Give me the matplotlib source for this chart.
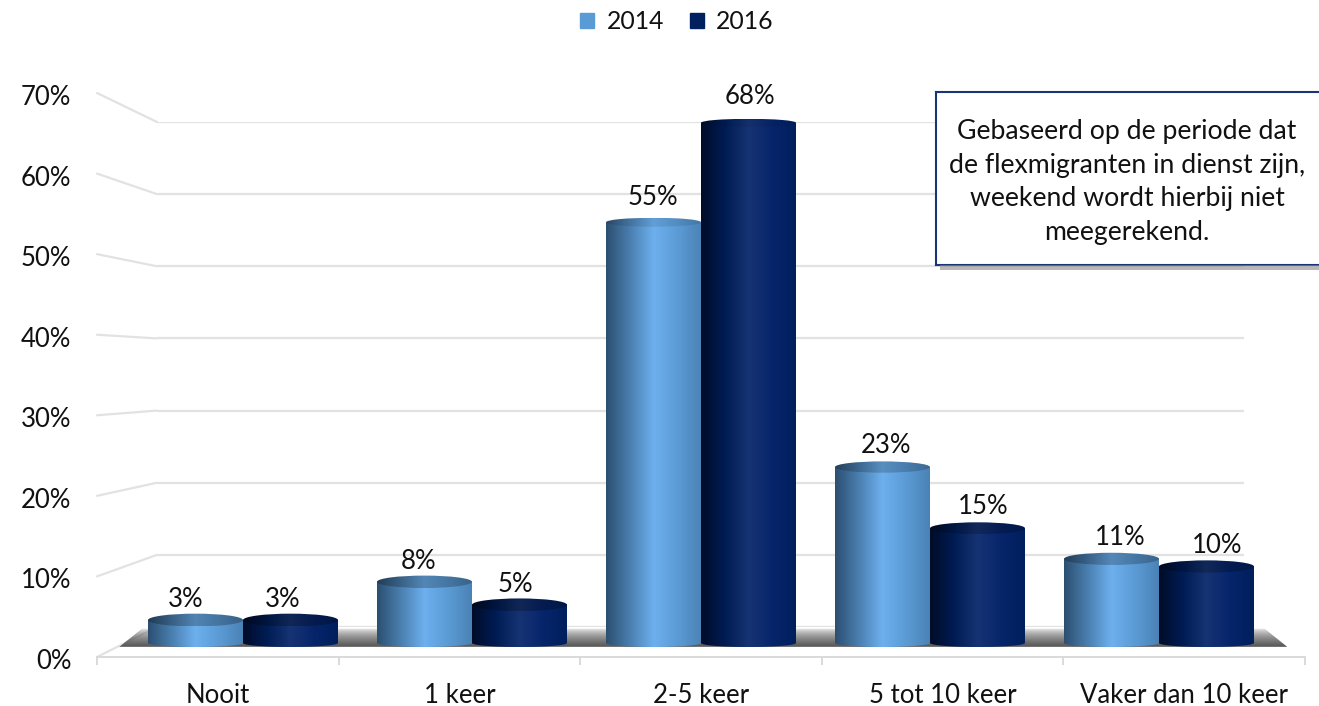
from matplotlib import pyplot as plt
from matplotlib.colors import LinearSegmentedColormap
from matplotlib.patches import ConnectionPatch, Ellipse, Patch, Polygon, Rectangle
from matplotlib.transforms import ScaledTranslation
import numpy as np

categories = ['Nooit', '1 keer', '2-5 keer', '5 tot 10 keer', 'Vaker dan 10 keer']
values_2014 = [3, 8, 55, 23, 11]
values_2016 = [3, 5, 68, 15, 10]
yticks = [0, 10, 20, 30, 40, 50, 60, 70]
note = 'Gebaseerd op de periode dat\nde flexmigranten in dienst zijn,\nweekend wordt hierbij niet\nmeegerekend.'

W, H = 1319, 706
PX_PER_PCT = 7.65
BAR_W = 95 / 229
GRID = '#e2e2e2'
TXT = '#111111'

plt.rcParams['font.family'] = ['Lato', 'DejaVu Sans']
plt.rcParams['font.size'] = 18.5


def px_box(left, top, right, bottom):
    return [left / W, 1 - bottom / H, (right - left) / W, (bottom - top) / H]


light = LinearSegmentedColormap.from_list('light', ['#2c4f70', '#4a7fb0', '#6db0ee', '#5b9bd5', '#4a82b5'])
dark = LinearSegmentedColormap.from_list('dark', ['#000c28', '#001c54', '#163473', '#06246a', '#001f5c'])
grad = np.linspace(0, 1, 256).reshape(1, -1)


def cylinder(ax, x, val, cmap):
    # body with a rounded bottom, then the lid on top
    cap_h = (13 - 5 * val / 68) / PX_PER_PCT
    foot = 4 / PX_PER_PCT
    t = np.linspace(np.pi, 2 * np.pi, 60)
    xs = x + BAR_W / 2 * np.cos(t)
    ys = foot * np.sin(t)
    body = Polygon(np.r_[np.c_[xs, ys], [[x + BAR_W / 2, val], [x - BAR_W / 2, val]]],
                   facecolor='none', edgecolor='none', transform=ax.transData)
    ax.add_patch(body)
    im = ax.imshow(grad, cmap=cmap, aspect='auto', interpolation='bilinear', zorder=3,
                   extent=[x - BAR_W / 2, x + BAR_W / 2, -foot, val])
    im.set_clip_path(body)

    lid = Ellipse((x, val), BAR_W, cap_h, facecolor='none', edgecolor='none')
    ax.add_patch(lid)
    shade = cmap(grad)[:, :, :3] * (0.74 + 0.2 * val / 68)
    im2 = ax.imshow(shade, aspect='auto', interpolation='bilinear', zorder=4,
                    extent=[x - BAR_W / 2, x + BAR_W / 2, val - cap_h / 2, val + cap_h / 2])
    im2.set_clip_path(lid)


fig = plt.figure(figsize=(W / 100, H / 100), dpi=100)

# back wall
ax_back = fig.add_axes(px_box(157, 122, 1244, 627))
ax_back.set_xlim(0, 1)
ax_back.set_ylim(0, 70)
ax_back.set_yticks(yticks)
ax_back.set_xticks([])
ax_back.tick_params(left=False, labelleft=False)
ax_back.grid(axis='y', color=GRID, linewidth=1.6)
for s in ax_back.spines.values():
    s.set_visible(False)

# front axis with the labels
ax_front = fig.add_axes(px_box(97, 93, 1305, 657))
ax_front.patch.set_visible(False)
ax_front.set_xlim(0, 5)
ax_front.set_ylim(0, 70)
ax_front.set_yticks(yticks, [str(v) + '%' for v in yticks], color=TXT)
ax_front.set_xticks(range(6), [])
ax_front.set_xticks(np.arange(5) + 0.5, categories, minor=True, color=TXT)
ax_front.tick_params(axis='y', left=False, pad=15)
ax_front.tick_params(axis='x', which='major', color='#d4d4d4', length=5.5, width=1.2)
ax_front.tick_params(axis='x', which='minor', bottom=False, pad=17)
for s in ['top', 'left', 'right']:
    ax_front.spines[s].set_visible(False)
ax_front.spines['bottom'].set_color('#d9d9d9')
ax_front.spines['bottom'].set_linewidth(1.4)
for lab in ax_front.get_yticklabels():
    lab.set_transform(lab.get_transform() + ScaledTranslation(0, -0.02, fig.dpi_scale_trans))

for v in yticks:
    fig.add_artist(ConnectionPatch(xyA=(0, v), coordsA=ax_front.transData,
                                   xyB=(0, v), coordsB=ax_back.transData,
                                   color=GRID, linewidth=1.6, zorder=-1))

# bars
ax = fig.add_axes(px_box(128.5 - 57.25, 643 - 70 * PX_PER_PCT, 1273.5 + 57.25, 660))
ax.axis('off')

shadow = Polygon([[-0.54, -0.5], [-0.44, 1.9], [4.46, 1.9], [4.56, -0.5]],
                 facecolor='none', edgecolor='none', transform=ax.transData)
ax.add_patch(shadow)
fade = np.zeros((64, 1, 4))
fade[:, 0, :3] = 0.33
fade[:, 0, 3] = np.linspace(0.0, 1.0, 64) ** 0.6
im = ax.imshow(fade, aspect='auto', interpolation='bilinear', zorder=1, extent=[-0.6, 4.6, -0.5, 1.9])
im.set_clip_path(shadow)

for i in range(len(categories)):
    for x, val, cmap in ((i - BAR_W / 2, values_2014[i], light), (i + BAR_W / 2, values_2016[i], dark)):
        cylinder(ax, x, val, cmap)
        ax.annotate(str(val) + '%', (x + 0.02 * (x - 2), val), xytext=(0, (20 + 6 * val / 68) * 0.72),
                    textcoords='offset points', ha='center', va='center', color=TXT, zorder=5)

ax.set_xlim(-0.75, 4.75)
ax.set_ylim(-17 / PX_PER_PCT, 70)

# note box
fig.add_artist(Rectangle((940 / W, 1 - 270 / H), 379 / W, 5 / H, transform=fig.transFigure,
                         facecolor='#8a8a8a', edgecolor='none', alpha=0.6))
ax_note = fig.add_axes(px_box(936, 92, 1330, 265))
ax_note.set_xticks([])
ax_note.set_yticks([])
for s in ax_note.spines.values():
    s.set_color('#1a3573')
    s.set_linewidth(1.5)
ax_note.text((1127 - 936) / 394, 0.48, note, transform=ax_note.transAxes, ha='center', va='center',
             fontsize=19.2, linespacing=1.42, color=TXT)

handles = [Patch(color='#5b9bd5', label='2014'), Patch(color='#002060', label='2016')]
fig.legend(handles=handles, loc='upper center', bbox_to_anchor=(677 / W, 1 + 12 / H), ncol=2, frameon=False,
           fontsize=17.8, handlelength=0.56, handleheight=0.56, handletextpad=0.5, columnspacing=1.05, labelcolor=TXT)

fig.savefig('out.png', dpi=100)
